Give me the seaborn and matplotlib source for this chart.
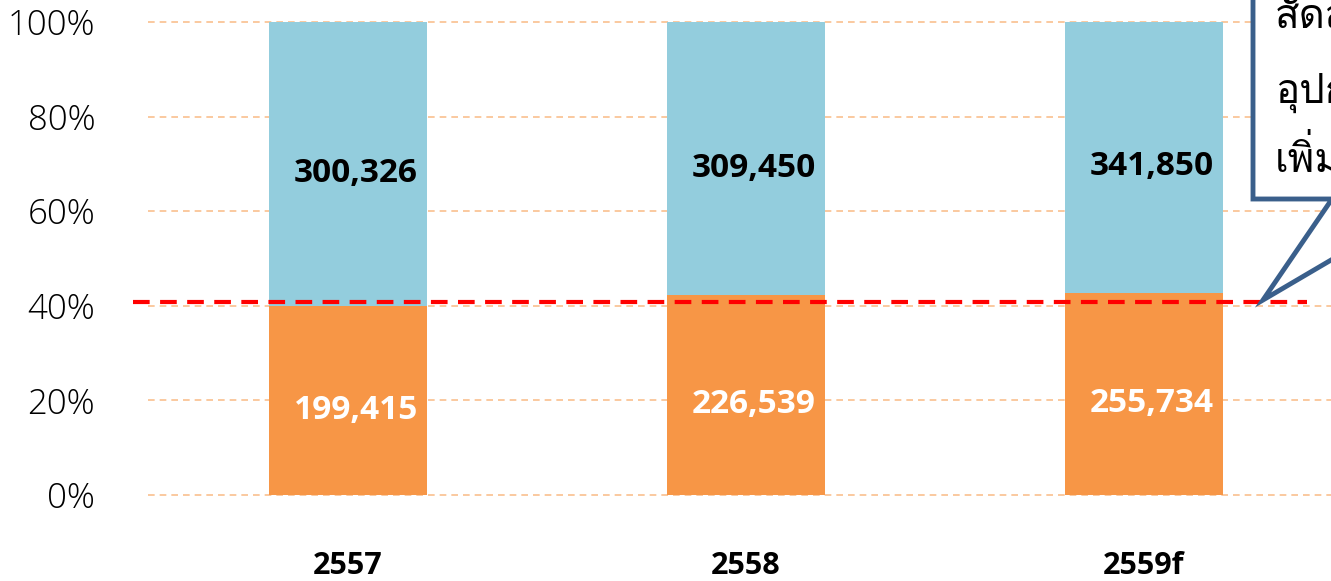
import numpy as np
import pandas as pd
import seaborn as sns
import matplotlib
matplotlib.use("Agg")
import matplotlib.pyplot as plt
from matplotlib import font_manager
from matplotlib.patches import Polygon

# ---- data ----
years = ["2557", "2558", "2559f"]
orange_vals = [199415, 226539, 255734]
blue_vals = [300326, 309450, 341850]
yticks = [0, 0.2, 0.4, 0.6, 0.8, 1.0]
ytick_labels = ["0%", "20%", "40%", "60%", "80%", "100%"]
ref_line = 0.408
callout_lines = ["สัดส่วน", "อุปกรณ์", "เพิ่มขึ้น"]

# ---- find a font with Thai glyphs ----
thai_family = None
try:
    from fontTools.ttLib import TTFont
    for f in font_manager.fontManager.ttflist:
        try:
            tt = TTFont(f.fname, fontNumber=0, lazy=True)
            cmap = tt.getBestCmap()
            if cmap and 0x0E2A in cmap and 0x0E34 in cmap:
                thai_family = f.name
                break
        except Exception:
            pass
except Exception:
    pass

sns.set_theme(style="white")
main_font = "Open Sans"
plt.rcParams["font.family"] = [main_font, "DejaVu Sans"]

df = pd.DataFrame({"year": years, "orange": orange_vals, "blue": blue_vals})
df["total"] = df["orange"] + df["blue"]
df["o_share"] = df["orange"] / df["total"]
df["full"] = 1.0

W, H = 1331, 581
fig = plt.figure(figsize=(W / 100, H / 100), dpi=100)
ppu = 473.0
ylo, yhi = -0.01, 1.01
bottom_px = 86 - 0.01 * ppu
ax = fig.add_axes([148 / W, bottom_px / H, 1 - 148 / W, (yhi - ylo) * ppu / H])

blue_c = "#93CDDD"
orange_c = "#F79646"
sns.barplot(data=df, x="year", y="full", color=blue_c, width=0.397, ax=ax,
            saturation=1, zorder=2, linewidth=0)
sns.barplot(data=df, x="year", y="o_share", color=orange_c, width=0.397, ax=ax,
            saturation=1, zorder=3, linewidth=0)

xl = (148 - 348) / 398.0
xr = (1331 - 348) / 398.0
ax.set_xlim(xl, xr)
ax.set_ylim(ylo, yhi)
for s in ax.spines.values():
    s.set_visible(False)
ax.set_yticks(yticks)
ax.set_yticklabels(ytick_labels)
ax.tick_params(axis="y", length=0, pad=38, labelsize=25, labelcolor="black")
ax.tick_params(axis="x", length=0, pad=37, labelsize=22, labelcolor="black")
for lab in ax.get_yticklabels():
    lab.set_fontweight(300)
for lab in ax.get_xticklabels():
    lab.set_fontweight("bold")
ax.set_xlabel("")
ax.set_ylabel("")
ax.grid(axis="y", color="#FAC08F", linestyle=(0, (4, 3)), linewidth=1.2, zorder=0)
ax.set_axisbelow(True)

# bar labels
for i, r in df.iterrows():
    ax.text(i + 0.02, r["o_share"] / 2 - 0.02, f"{r['orange']:,}", ha="center", va="center",
            color="white", fontsize=24, fontweight="bold", zorder=5)
    ax.text(i + 0.02, (1 + r["o_share"]) / 2 - 0.02, f"{r['blue']:,}", ha="center", va="center",
            color="black", fontsize=24, fontweight="bold", zorder=5)

# red dashed reference line
x0 = (133 - 348) / 398.0
x1 = (1307 - 348) / 398.0
ax.plot([x0, x1], [ref_line, ref_line], color="#FF0000", linestyle=(0, (4, 2.5)),
        linewidth=3, clip_on=False, zorder=6)

# callout box (figure pixel coords, y from top)
def P(x, y):
    return (x / W, 1 - y / H)

box_c = "#3A5F8B"
pts = [P(1253, -50), P(1253, 199), P(1332, 199), P(1263, 300), P(1435, 199),
       P(1600, 199), P(1600, -50)]
poly = Polygon(pts, closed=True, transform=fig.transFigure, facecolor="white",
               edgecolor=box_c, linewidth=3.5, zorder=10, joinstyle="miter")
fig.add_artist(poly)

tfam = [thai_family, "DejaVu Sans"] if thai_family else ["DejaVu Sans"]
for k, t in enumerate(callout_lines):
    fig.text(1275 / W, 1 - (14 + 72 * k) / H, t, ha="left", va="center",
             fontsize=29, family=tfam, color="black", zorder=11)

fig.savefig("out.png", dpi=100)
